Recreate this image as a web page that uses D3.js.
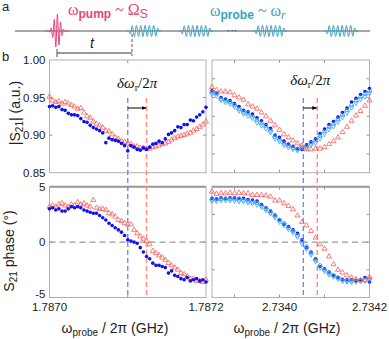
<!DOCTYPE html>
<html>
<head>
<meta charset="utf-8">
<script src="https://cdn.jsdelivr.net/npm/d3@7"></script>
<style>
  body { margin: 0; background: #fff; }
  svg { display: block; font-family: "Liberation Sans", Arial, sans-serif; }
</style>
</head>
<body>
<svg width="389" height="339"></svg>
<script>
// ---- data ----
var freqL = [1.787000, 1.787004, 1.787008, 1.787012, 1.787016, 1.787020, 1.787024, 1.787028, 1.787032, 1.787036,
             1.787040, 1.787044, 1.787048, 1.787052, 1.787056, 1.787060, 1.787064, 1.787068, 1.787072, 1.787076,
             1.787080, 1.787084, 1.787088, 1.787092, 1.787096, 1.787100, 1.787104, 1.787108, 1.787112, 1.787116,
             1.787120, 1.787124, 1.787128, 1.787132, 1.787136, 1.787140, 1.787144, 1.787148, 1.787152, 1.787156,
             1.787160, 1.787164, 1.787168, 1.787172, 1.787176, 1.787180, 1.787184, 1.787188, 1.787192, 1.787196, 1.787200]
var ampL_on = [0.938, 0.939, 0.937, 0.938, 0.934, 0.933, 0.929, 0.927, 0.927, 0.926,
               0.922, 0.918, 0.917, 0.913, 0.910, 0.908, 0.906, 0.903, 0.890, 0.896,
               0.894, 0.893, 0.892, 0.889, 0.886, 0.879, 0.886, 0.884, 0.881, 0.880,
               0.883, 0.881, 0.884, 0.888, 0.889, 0.892, 0.890, 0.895, 0.901, 0.903,
               0.906, 0.911, 0.910, 0.914, 0.914, 0.920, 0.919, 0.924, 0.927, 0.931, 0.937]
var ampL_off = [0.951, 0.946, 0.944, 0.945, 0.942, 0.944, 0.942, 0.940, 0.938, 0.935,
                0.936, 0.930, 0.925, 0.923, 0.918, 0.915, 0.913, 0.910, 0.906, 0.905,
                0.901, 0.897, 0.895, 0.892, 0.891, 0.889, 0.888, 0.885, 0.885, 0.883,
                0.883, 0.882, 0.882, 0.884, 0.885, 0.886, 0.888, 0.889, 0.891, 0.894,
                0.896, 0.898, 0.899, 0.900, 0.902, 0.903, 0.906, 0.908, 0.911, 0.914, 0.918]
var phL_on = [3.0, 3.1, 2.9, 3.0, 2.8, 2.8, 3.0, 3.2, 3.1, 3.2,
              3.1, 2.9, 2.8, 2.7, 2.6, 2.6, 2.4, 2.2, 2.0, 1.7,
              1.5, 1.3, 1.1, 0.9, 0.6, 0.2, 0.1, 0.0, -0.1, -0.5,
              -0.9, -1.3, -1.5, -1.9, -2.1, -2.1, -2.2, -2.3, -2.8, -2.6,
              -3.0, -3.1, -3.3, -3.4, -3.2, -3.5, -3.4, -3.3, -3.5, -3.4, -3.6]
var phL_off = [3.2, 3.3, 3.2, 3.4, 3.5, 3.3, 3.2, 3.4, 3.3, 3.6,
               3.4, 3.5, 3.3, 3.2, 3.8, 3.1, 3.0, 3.0, 2.9, 2.6,
               2.5, 2.3, 2.0, 1.9, 1.7, 1.6, 1.6, 1.1, 0.8, 0.5,
               0.3, 0.1, -0.2, -0.8, -1.0, -1.2, -1.4, -1.6, -1.9, -2.1,
               -2.3, -2.5, -2.8, -2.9, -3.1, -3.3, -3.3, -3.5, -3.5, -3.6, -3.4]

var freqR = [2.73385, 2.73386, 2.73387, 2.73388, 2.73389, 2.73390, 2.73391, 2.73392, 2.73393, 2.73394,
             2.73395, 2.73396, 2.73397, 2.73398, 2.73399, 2.73400, 2.73401, 2.73402, 2.73403, 2.73404,
             2.73405, 2.73406, 2.73407, 2.73408, 2.73409, 2.73410, 2.73411, 2.73412, 2.73413, 2.73414,
             2.73415, 2.73416, 2.73417, 2.73418, 2.73419, 2.73420]
var ampR_on = [0.959, 0.956, 0.950, 0.948, 0.946, 0.942, 0.938, 0.933, 0.931, 0.928,
               0.923, 0.919, 0.914, 0.909, 0.900, 0.897, 0.892, 0.888, 0.885, 0.882,
               0.881, 0.887, 0.891, 0.895, 0.902, 0.908, 0.914, 0.918, 0.924, 0.930,
               0.936, 0.944, 0.949, 0.954, 0.958, 0.962]
var ampR_c = [0.957, 0.955, 0.948, 0.946, 0.944, 0.940, 0.935, 0.931, 0.929, 0.925,
              0.920, 0.916, 0.912, 0.906, 0.898, 0.894, 0.889, 0.886, 0.883, 0.881,
              0.883, 0.885, 0.889, 0.893, 0.899, 0.905, 0.911, 0.915, 0.921, 0.927,
              0.933, 0.940, 0.946, 0.951, 0.955, 0.959]
var ampR_t = [0.955, 0.953, 0.947, 0.944, 0.942, 0.938, 0.933, 0.929, 0.926, 0.923,
              0.917, 0.913, 0.909, 0.904, 0.896, 0.892, 0.887, 0.884, 0.882, 0.880,
              0.884, 0.883, 0.887, 0.890, 0.896, 0.902, 0.908, 0.912, 0.918, 0.924,
              0.930, 0.937, 0.943, 0.948, 0.952, 0.956]
var ampR_off = [0.964, 0.960, 0.958, 0.958, 0.957, 0.953, 0.950, 0.947, 0.941, 0.938,
                0.935, 0.930, 0.925, 0.919, 0.913, 0.907, 0.901, 0.897, 0.893, 0.889,
                0.886, 0.881, 0.881, 0.882, 0.882, 0.884, 0.888, 0.892, 0.897, 0.904,
                0.911, 0.919, 0.926, 0.932, 0.939, 0.946]
var phR_on = [3.95, 3.9, 4.0, 3.95, 4.0, 4.0, 3.95, 3.95, 3.85, 3.8,
              3.7, 3.4, 3.1, 2.8, 2.45, 2.0, 1.6, 1.4, 1.1, 0.8,
              0.2, -0.5, -0.9, -1.5, -2.2, -2.4, -2.7, -3.0, -3.2, -3.35,
              -3.4, -3.4, -3.45, -3.4, -3.2, -3.6]
var phR_c = [3.85, 3.85, 3.9, 3.9, 3.9, 3.9, 3.85, 3.8, 3.7, 3.65,
             3.55, 3.3, 3.0, 2.7, 2.35, 2.0, 1.7, 1.3, 1.0, 0.6,
             0.1, -0.4, -1.0, -1.6, -2.1, -2.5, -2.8, -3.0, -3.2, -3.4,
             -3.5, -3.5, -3.5, -3.45, -3.4, -3.3]
var phR_t = [3.75, 3.7, 3.8, 3.8, 3.8, 3.75, 3.7, 3.7, 3.6, 3.5,
             3.4, 3.2, 2.9, 2.6, 2.25, 1.85, 1.55, 1.2, 0.9, 0.5,
             -0.1, -0.6, -1.1, -1.7, -2.3, -2.6, -2.9, -3.1, -3.3, -3.5,
             -3.55, -3.6, -3.55, -3.5, -3.45, -3.4]
var phR_off = [4.55, 4.35, 4.4, 4.4, 4.45, 4.4, 4.45, 4.4, 4.4, 4.25,
               4.25, 4.25, 4.2, 4.1, 3.75, 3.75, 3.5, 3.25, 2.95, 2.4,
               1.8, 1.5, 1.0, 0.4, -0.2, -0.6, -1.3, -2.0, -2.5, -2.75,
               -3.0, -3.2, -3.35, -3.45, -3.45, -3.15]

// resonance positions (GHz): pump off (blue) and pump on (red)
var resL = [1.78710, 1.787124]
var resR = [2.734053, 2.734084]

var ampTicks = [0.85, 0.90, 0.95, 1.00]
var phTicks = [-5, 0, 5]
var xTicksL = [1.7870, 1.7872]
var xTicksR = [2.7340, 2.7342]

// schematic pulse centres (px along the time line)
var probeCentres = [144, 196, 270, 341]

var svg = d3.select('svg')
var BLUE = '#1010f0', LBLUE = '#3aa6e6', RED = '#ff5a5a'

var xL = d3.scaleLinear().domain([1.7870, 1.7872]).range([49.5, 206])
var xR = d3.scaleLinear().domain([2.73385, 2.7342]).range([212, 369.5])
var yA = d3.scaleLinear().domain([0.85, 1.00]).range([172.7, 60])
var yP = d3.scaleLinear().domain([-5, 5]).range([297.5, 186.7])

// ---- panel frames ----
function frame(x, y, opts) {
  var g = svg.append('g')
  var x0 = x.range()[0], x1 = x.range()[1], y0 = y.range()[1], y1 = y.range()[0]
  g.append('rect').attr('x', x0).attr('y', y0).attr('width', x1 - x0).attr('height', y1 - y0)
    .attr('fill', 'none').attr('stroke', '#b0b0b0').attr('stroke-width', 1)
  if (opts.thickTop) g.append('line').attr('x1', x0).attr('x2', x1).attr('y1', y0).attr('y2', y0)
    .attr('stroke', '#999').attr('stroke-width', 2)
  ;(opts.yt || []).forEach(function (v) {
    g.append('line').attr('x1', x0).attr('x2', x0 + 3).attr('y1', y(v)).attr('y2', y(v)).attr('stroke', '#999')
    g.append('line').attr('x1', x1).attr('x2', x1 - 3).attr('y1', y(v)).attr('y2', y(v)).attr('stroke', '#999')
  })
  ;(opts.xt || []).forEach(function (v) {
    g.append('line').attr('x1', x(v)).attr('x2', x(v)).attr('y1', y0).attr('y2', y0 + 3).attr('stroke', '#999')
    g.append('line').attr('x1', x(v)).attr('x2', x(v)).attr('y1', y1).attr('y2', y1 - 3).attr('stroke', '#999')
  })
}
frame(xL, yA, { yt: [0.90, 0.95], xt: [1.7871] })
frame(xR, yA, { yt: [0.875, 0.90, 0.925, 0.95, 0.975], xt: [2.7339, 2.7340, 2.7341] })
frame(xL, yP, { yt: [0], xt: [1.7871], thickTop: true })
frame(xR, yP, { yt: [2.5, 0, -2.5], xt: [2.7339, 2.7340, 2.7341], thickTop: true })

// zero lines
;[xL, xR].forEach(function (x) {
  svg.append('line').attr('x1', x.range()[0]).attr('x2', x.range()[1])
    .attr('y1', yP(0)).attr('y2', yP(0))
    .attr('stroke', '#999').attr('stroke-width', 1.3).attr('stroke-dasharray', '6,4')
})

// resonance dashed lines + arrow + label
svg.append('defs').append('marker').attr('id', 'ah').attr('viewBox', '0 0 10 10')
  .attr('refX', 9).attr('refY', 5).attr('markerWidth', 5).attr('markerHeight', 5).attr('orient', 'auto')
  .append('path').attr('d', 'M0,1L10,5L0,9Z').attr('fill', '#000')

function resonance(x, res, labelY) {
  var cols = ['#8080ff', '#ff8a8a']
  res.forEach(function (f, i) {
    svg.append('line').attr('x1', x(f)).attr('x2', x(f)).attr('y1', 98).attr('y2', yP(-5))
      .attr('stroke', cols[i]).attr('stroke-width', 1.4).attr('stroke-dasharray', '5,3')
  })
  svg.append('line').attr('x1', x(res[0])).attr('x2', x(res[1]) - 0.5).attr('y1', 108).attr('y2', 108)
    .attr('stroke', '#000').attr('stroke-width', 1).attr('marker-end', 'url(#ah)')
  var t = svg.append('text').attr('x', (x(res[0]) + x(res[1])) / 2).attr('y', labelY)
    .attr('text-anchor', 'middle').attr('font-family', '"Liberation Serif", "DejaVu Serif", serif')
    .attr('font-size', 15).attr('fill', '#111')
  t.append('tspan').attr('font-style', 'italic').text('δω')
  t.append('tspan').attr('font-size', 10).attr('dy', 3).text('r')
  t.append('tspan').attr('dy', -3).text('/2')
  t.append('tspan').attr('font-style', 'italic').text('π')
}
resonance(xL, resL, 88)
resonance(xR, resR, 85)

// ---- markers ----
var tri = d3.symbol().type(d3.symbolTriangle).size(11)
function dots(x, y, fx, vals) {
  svg.append('g').selectAll('circle').data(vals).join('circle')
    .attr('cx', function (d, i) { return x(fx[i]) }).attr('cy', function (d) { return y(d) })
    .attr('r', 1.8).attr('fill', BLUE)
}
function rings(x, y, fx, vals) {
  svg.append('g').selectAll('circle').data(vals).join('circle')
    .attr('cx', function (d, i) { return x(fx[i]) }).attr('cy', function (d) { return y(d) })
    .attr('r', 1.8).attr('fill', 'none').attr('stroke', LBLUE).attr('stroke-width', 0.9)
}
function tris(x, y, fx, vals, col, down) {
  svg.append('g').selectAll('path').data(vals).join('path')
    .attr('d', tri)
    .attr('transform', function (d, i) { return 'translate(' + x(fx[i]) + ',' + y(d) + ')' + (down ? ' rotate(180)' : '') })
    .attr('fill', 'none').attr('stroke', col).attr('stroke-width', 0.8)
}

tris(xL, yA, freqL, ampL_off, RED)
dots(xL, yA, freqL, ampL_on)
tris(xL, yP, freqL, phL_off, RED)
dots(xL, yP, freqL, phL_on)

dots(xR, yA, freqR, ampR_on)
rings(xR, yA, freqR, ampR_c)
tris(xR, yA, freqR, ampR_t, LBLUE, true)
tris(xR, yA, freqR, ampR_off, RED)
dots(xR, yP, freqR, phR_on)
rings(xR, yP, freqR, phR_c)
tris(xR, yP, freqR, phR_t, LBLUE, true)
tris(xR, yP, freqR, phR_off, RED)

// ---- tick labels ----
var lab = svg.append('g').attr('font-size', 11.5).attr('fill', '#222')
ampTicks.forEach(function (v) {
  lab.append('text').attr('x', 45.5).attr('y', yA(v) + 4).attr('text-anchor', 'end').text(v.toFixed(2))
})
phTicks.forEach(function (v) {
  lab.append('text').attr('x', 45.5).attr('y', v === -5 ? 297.5 : yP(v) + 4)
    .attr('text-anchor', 'end').text(v < 0 ? '-' + (-v) : v)
})
xTicksL.forEach(function (v) {
  lab.append('text').attr('x', xL(v)).attr('y', 310.5).attr('text-anchor', 'middle').text(v.toFixed(4))
})
xTicksR.forEach(function (v) {
  lab.append('text').attr('x', xR(v)).attr('y', 310.5).attr('text-anchor', 'middle').text(v.toFixed(4))
})

// ---- axis titles ----
function xTitle(cx) {
  var t = svg.append('text').attr('x', cx).attr('y', 333).attr('text-anchor', 'middle')
    .attr('font-size', 14).attr('fill', '#222')
  t.append('tspan').text('ω')
  t.append('tspan').attr('font-size', 10).attr('dy', 3).text('probe')
  t.append('tspan').attr('dy', -3).text(' / 2π (GHz)')
}
xTitle(115)
xTitle(287)

var ya = svg.append('text').attr('transform', 'translate(20,113) rotate(-90)').attr('text-anchor', 'middle')
  .attr('font-size', 14).attr('fill', '#222')
ya.append('tspan').text('|S')
ya.append('tspan').attr('font-size', 10).attr('dy', 3).text('21')
ya.append('tspan').attr('dy', -3).text('| (a.u.)')

var yb = svg.append('text').attr('transform', 'translate(14,251) rotate(-90)').attr('text-anchor', 'middle')
  .attr('font-size', 14).attr('fill', '#222')
yb.append('tspan').text('S')
yb.append('tspan').attr('font-size', 10).attr('dy', 3).text('21')
yb.append('tspan').attr('dy', -3).text(' phase (°)')

// panel letters
svg.append('text').attr('x', 2).attr('y', 11).attr('font-size', 13).attr('fill', '#222').text('a')
svg.append('text').attr('x', 2).attr('y', 61).attr('font-size', 13).attr('fill', '#222').text('b')

// ---- schematic (a) ----
var PINK = '#e2457d', TEAL = '#3b9fc0', Y0 = 31
svg.append('line').attr('x1', 15).attr('x2', 370).attr('y1', Y0).attr('y2', Y0)
  .attr('stroke', '#8a8a8a').attr('stroke-width', 1.5)

var wave = d3.line().x(function (d) { return d[0] }).y(function (d) { return d[1] })
var pump = d3.range(45, 69.01, 0.2).map(function (x) {
  var u = (x - 57) / 4.5
  return [x, Y0 - 17 * Math.exp(-u * u) * Math.sin(2 * Math.PI * (x - 57) / 3.2 + 0.8)]
})
svg.append('path').attr('d', wave(pump)).attr('fill', 'none').attr('stroke', PINK).attr('stroke-width', 1)

probeCentres.forEach(function (c) {
  var pts = d3.range(c - 17, c + 17.01, 0.2).map(function (x) {
    var env = 0.5 * (Math.tanh((x - c + 14) / 1.5) - Math.tanh((x - c - 14) / 1.5))
    return [x, Y0 - 5.5 * env * Math.sin(2 * Math.PI * (x - c) / 4.3)]
  })
  svg.append('path').attr('d', wave(pts)).attr('fill', 'none').attr('stroke', TEAL).attr('stroke-width', 1)
})
svg.append('text').attr('x', 232).attr('y', 34).attr('text-anchor', 'middle').attr('font-size', 11)
  .attr('fill', '#333').text('···')

// t bracket
svg.append('line').attr('x1', 132).attr('x2', 132).attr('y1', 34).attr('y2', 56)
  .attr('stroke', '#555').attr('stroke-dasharray', '3,2')
svg.append('line').attr('x1', 57).attr('x2', 57).attr('y1', 49).attr('y2', 57).attr('stroke', '#555')
svg.append('line').attr('x1', 57).attr('x2', 132).attr('y1', 53).attr('y2', 53).attr('stroke', '#333')
svg.append('text').attr('x', 90).attr('y', 48).attr('font-size', 14).attr('font-style', 'italic')
  .attr('fill', '#222').text('t')

var tp = svg.append('text').attr('x', 68).attr('y', 15).attr('font-size', 16).attr('fill', PINK)
  .attr('font-family', '"Liberation Serif", serif')
tp.append('tspan').text('ω')
tp.append('tspan').attr('font-size', 12).attr('dy', 3).attr('font-weight', 'bold')
  .attr('font-family', '"Liberation Sans", Arial, sans-serif').text('pump')
tp.append('tspan').attr('dy', -3).text(' ~ Ω')
tp.append('tspan').attr('font-size', 12).attr('dy', 3)
  .attr('font-family', '"Liberation Sans", Arial, sans-serif').text('S')

var tq = svg.append('text').attr('x', 210).attr('y', 16).attr('font-size', 16).attr('fill', TEAL)
  .attr('font-family', '"Liberation Serif", serif')
tq.append('tspan').text('ω')
tq.append('tspan').attr('font-size', 12).attr('dy', 3).attr('font-weight', 'bold')
  .attr('font-family', '"Liberation Sans", Arial, sans-serif').text('probe')
tq.append('tspan').attr('dy', -3).text(' ~ ω')
tq.append('tspan').attr('font-size', 12).attr('dy', 3).attr('font-style', 'italic').text('r')
</script>
</body>
</html>
